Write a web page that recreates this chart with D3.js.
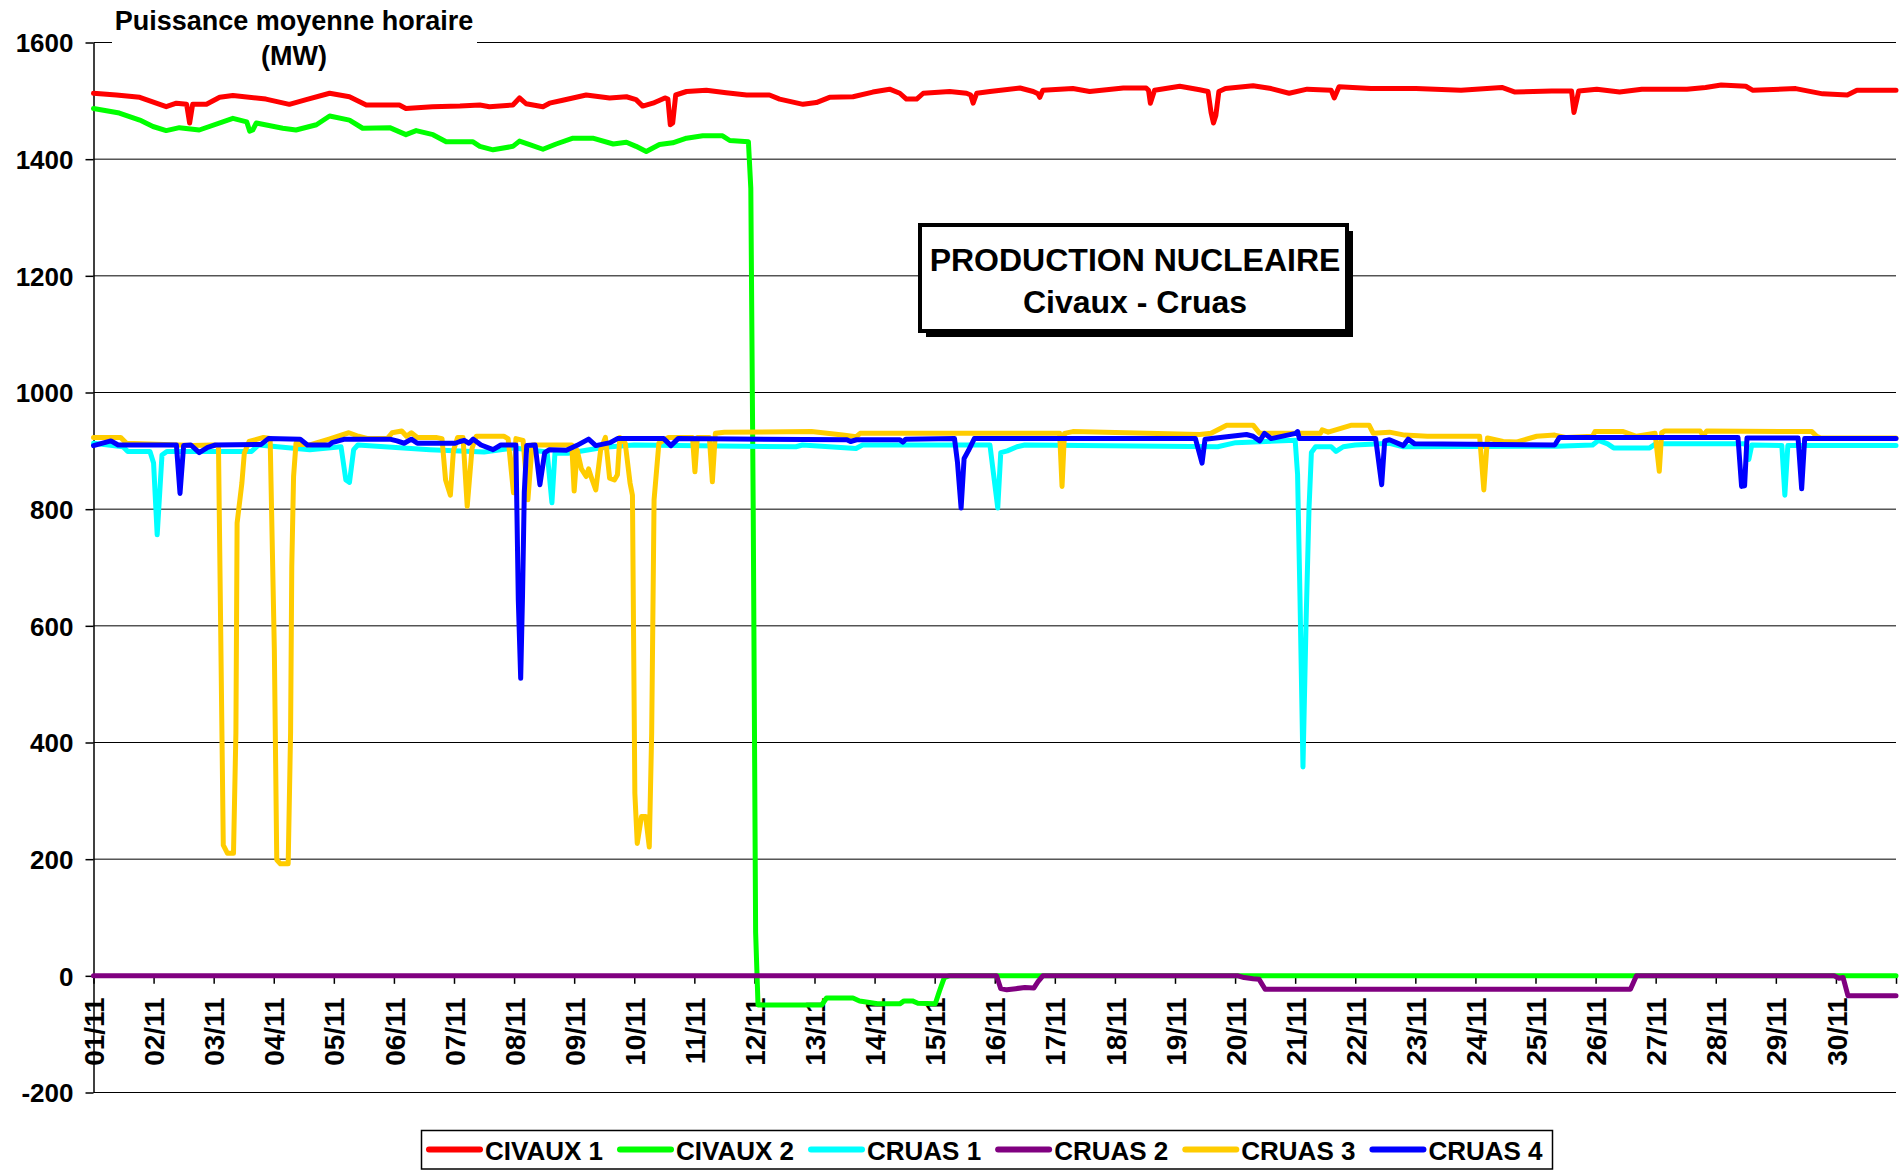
<!DOCTYPE html>
<html>
<head>
<meta charset="utf-8">
<script src="https://cdn.jsdelivr.net/npm/d3@7"></script>
<style>
  body { margin: 0; background: #fff; }
  svg text { font-family: "Liberation Sans", Arial, sans-serif; font-weight: bold; fill: #000; }
</style>
</head>
<body>
<svg id="chart" width="1899" height="1171"></svg>
<script>
// day offsets from 01/11 00:00, hourly mean power in MW
const dayLabels = ['01/11', '02/11', '03/11', '04/11', '05/11', '06/11', '07/11', '08/11', '09/11', '10/11',
  '11/11', '12/11', '13/11', '14/11', '15/11', '16/11', '17/11', '18/11', '19/11', '20/11',
  '21/11', '22/11', '23/11', '24/11', '25/11', '26/11', '27/11', '28/11', '29/11', '30/11'];
const yTicks = [-200, 0, 200, 400, 600, 800, 1000, 1200, 1400, 1600];
const seriesNames = ['CIVAUX 1', 'CIVAUX 2', 'CRUAS 1', 'CRUAS 2', 'CRUAS 3', 'CRUAS 4'];
const seriesColors = ['#ff0000', '#00ff00', '#00ffff', '#800080', '#ffcc00', '#0000ff'];

const civaux1 = [[0,1513],[0.38,1510],[0.77,1506],[1.21,1490],[1.38,1496],[1.55,1494],[1.6,1462],[1.65,1494],[1.88,1494],
  [2.1,1506],[2.32,1509],[2.87,1503],[3.26,1494],[3.54,1502],[3.93,1513],[4.26,1507],[4.54,1493],[5.09,1493],[5.2,1487],
  [5.64,1490],[6.1,1491],[6.43,1493],[6.59,1490],[6.98,1493],[7.09,1505],[7.2,1495],[7.48,1490],[7.59,1496],[7.81,1501],
  [8.2,1510],[8.59,1505],[8.87,1507],[9.03,1502],[9.14,1491],[9.31,1496],[9.51,1505],[9.56,1503],[9.6,1459],[9.64,1462],
  [9.69,1510],[9.87,1516],[10.2,1518],[10.53,1514],[10.87,1510],[11.25,1510],[11.42,1503],[11.81,1494],[12.03,1497],
  [12.25,1506],[12.64,1507],[12.97,1515],[13.25,1520],[13.42,1513],[13.53,1503],[13.7,1503],[13.81,1513],[14.25,1516],
  [14.53,1513],[14.6,1510],[14.64,1496],[14.7,1513],[14.92,1516],[15.42,1522],[15.64,1516],[15.72,1512],[15.75,1506],
  [15.8,1518],[16.3,1521],[16.58,1516],[17.14,1522],[17.52,1522],[17.56,1518],[17.59,1496],[17.66,1518],[18.08,1525],
  [18.41,1519],[18.55,1516],[18.6,1480],[18.64,1462],[18.68,1475],[18.73,1516],[18.84,1521],[19.3,1526],[19.6,1521],
  [19.9,1513],[20.2,1520],[20.6,1518],[20.65,1505],[20.73,1524],[21.26,1521],[22.01,1521],[22.76,1518],[23.44,1523],
  [23.66,1515],[24.27,1517],[24.6,1517],[24.64,1480],[24.72,1517],[25.02,1520],[25.4,1515],[25.77,1520],[26.52,1520],
  [26.83,1523],[27.09,1527],[27.5,1525],[27.62,1518],[28.33,1521],[28.63,1515],[28.78,1512],[29.19,1510],[29.35,1518],
  [30,1518]];

const civaux2 = [[0,1487],[0.43,1479],[0.77,1467],[0.99,1456],[1.21,1449],[1.43,1454],[1.76,1450],[2.32,1470],[2.55,1464],
  [2.6,1448],[2.65,1450],[2.71,1462],[3.15,1453],[3.37,1450],[3.71,1459],[3.93,1474],[4.26,1467],[4.48,1453],[4.93,1454],
  [5.2,1442],[5.37,1449],[5.65,1442],[5.87,1430],[6.31,1430],[6.43,1422],[6.65,1416],[6.98,1422],[7.09,1431],[7.26,1425],
  [7.48,1417],[7.7,1426],[7.98,1436],[8.31,1436],[8.65,1426],[8.87,1429],[9.03,1422],[9.2,1413],[9.42,1425],[9.64,1428],
  [9.87,1436],[10.14,1440],[10.47,1440],[10.59,1432],[10.9,1430],[10.94,1350],[10.98,800],[11.02,75],[11.06,-50],
  [12.12,-50],[12.2,-38],[12.64,-38],[12.75,-43],[13.05,-48],[13.42,-48],[13.49,-43],[13.63,-43],[13.72,-47],[14.01,-48],
  [14.08,-26],[14.16,-3],[14.24,0],[30,0]];

const cruas1 = [[0,913],[0.49,907],[0.57,899],[0.94,899],[1.0,879],[1.06,756],[1.14,893],[1.22,899],[2.63,899],[2.75,910],
  [3.6,902],[4.12,907],[4.2,850],[4.26,846],[4.33,902],[4.4,910],[5.6,902],[6.5,898],[7.0,905],[7.55,898],[7.63,811],
  [7.68,896],[7.9,896],[8.5,906],[9.0,910],[11.69,907],[11.8,910],[12.69,904],[12.8,910],[14.92,910],[14.98,860],
  [15.05,802],[15.1,897],[15.21,900],[15.37,907],[15.5,910],[18.71,907],[19.01,914],[20.0,918],[20.04,860],[20.08,650],
  [20.13,358],[20.18,600],[20.23,800],[20.27,897],[20.34,907],[20.6,907],[20.68,899],[20.8,907],[21.0,910],[21.57,913],
  [21.8,907],[24.35,908],[24.95,910],[25.05,918],[25.2,912],[25.3,905],[25.9,905],[26.0,912],[27.5,912],[27.55,885],
  [27.6,910],[28.1,909],[28.15,824],[28.2,909],[30,909]];

const cruas2 = [[0,0],[15.03,0],[15.1,-22],[15.2,-24],[15.35,-22],[15.5,-20],[15.65,-21],[15.72,-10],[15.8,0],[19.05,0],
  [19.15,-3],[19.3,-5],[19.4,-6],[19.5,-23],[25.58,-23],[25.68,0],[28.97,0],[29.05,-4],[29.12,-3],[29.2,-34],[30,-34]];

const cruas3 = [[0,923],[0.45,923],[0.55,913],[1.66,909],[1.99,910],[2.08,909],[2.16,224],[2.23,210],[2.33,210],[2.37,416],
  [2.39,776],[2.47,845],[2.51,896],[2.59,916],[2.83,923],[2.94,921],[3.01,559],[3.05,199],[3.11,192],[3.24,192],[3.28,416],
  [3.3,702],[3.33,856],[3.37,913],[3.6,910],[3.92,920],[4.25,931],[4.41,925],[4.57,921],[4.89,921],[4.97,931],[5.13,934],
  [5.21,925],[5.29,931],[5.39,923],[5.7,923],[5.8,921],[5.86,850],[5.94,824],[5.99,900],[6.06,923],[6.15,923],[6.22,805],
  [6.3,904],[6.37,925],[6.83,925],[6.9,921],[6.99,828],[7.03,921],[7.15,918],[7.23,816],[7.3,910],[7.96,910],[8.0,831],
  [8.05,901],[8.12,869],[8.2,856],[8.24,869],[8.3,850],[8.36,833],[8.44,901],[8.52,923],[8.59,853],[8.67,850],[8.72,859],
  [8.76,923],[8.85,913],[8.93,845],[8.97,824],[9.01,313],[9.05,227],[9.12,273],[9.19,273],[9.25,221],[9.29,416],[9.33,816],
  [9.41,913],[9.57,923],[9.97,923],[10.01,864],[10.05,923],[10.25,923],[10.3,847],[10.35,930],[10.5,932],[11.95,933],
  [12.47,927],[12.69,924],[12.76,930],[16.08,930],[16.12,839],[16.16,930],[16.3,933],[18.41,928],[18.6,930],[18.86,944],
  [19.3,944],[19.41,930],[20.42,930],[20.45,936],[20.55,932],[20.94,944],[21.23,944],[21.3,930],[21.57,932],[21.82,927],
  [22.2,925],[23.07,925],[23.14,833],[23.2,922],[23.46,916],[23.68,915],[24.02,925],[24.32,927],[24.5,923],[24.95,925],
  [24.99,933],[25.46,933],[25.68,925],[25.99,930],[26.06,865],[26.1,931],[26.15,934],[26.74,934],[26.79,926],[26.85,934],
  [28.6,933],[28.68,925],[28.75,922],[30,922]];

const cruas4 = [[0,909],[0.29,917],[0.41,910],[1.38,910],[1.44,827],[1.5,909],[1.62,910],[1.76,897],[1.9,906],[2.03,910],
  [2.79,911],[2.91,921],[3.44,920],[3.56,910],[3.92,910],[3.97,914],[4.18,920],[4.93,920],[5.05,917],[5.17,913],[5.29,920],
  [5.39,913],[6.02,913],[6.1,916],[6.17,918],[6.25,913],[6.32,920],[6.45,910],[6.65,902],[6.78,910],[7.03,910],[7.07,645],
  [7.11,510],[7.14,650],[7.17,829],[7.21,909],[7.35,910],[7.43,842],[7.51,897],[7.59,902],[7.87,901],[8.04,909],[8.24,920],
  [8.36,909],[8.6,914],[8.72,921],[9.49,921],[9.61,909],[9.73,921],[12.54,919],[12.6,916],[12.7,919],[13.42,919],
  [13.47,915],[13.52,920],[14.33,921],[14.38,880],[14.44,802],[14.49,887],[14.56,900],[14.66,921],[18.34,921],[18.45,879],
  [18.5,920],[19.19,928],[19.3,925],[19.41,917],[19.49,930],[19.6,921],[20.01,930],[20.04,933],[20.07,921],[21.34,921],
  [21.44,842],[21.49,917],[21.57,919],[21.8,909],[21.88,920],[21.99,912],[24.32,910],[24.4,923],[27.37,923],[27.43,839],
  [27.48,840],[27.52,922],[28.37,922],[28.43,835],[28.48,921],[30,921]];

const seriesData = [civaux1, civaux2, cruas1, cruas2, cruas3, cruas4];

const svg = d3.select('#chart');
const plotLeft = 93.5, plotRight = 1896, plotTop = 42.5, plotBottom = 1092.5;

const x = d3.scaleLinear().domain([0, 30]).range([plotLeft, plotRight]);
const y = d3.scaleLinear().domain([-200, 1600]).range([plotBottom, plotTop]);

// horizontal gridlines
svg.append('g')
  .selectAll('line')
  .data(yTicks)
  .join('line')
    .attr('x1', plotLeft)
    .attr('x2', plotRight)
    .attr('y1', d => y(d))
    .attr('y2', d => y(d))
    .attr('stroke', '#000')
    .attr('stroke-width', 1);

// axis title, its white background cuts the top gridline
svg.append('rect')
  .attr('x', 112).attr('y', 0)
  .attr('width', 365).attr('height', 72)
  .attr('fill', '#fff');
svg.append('text')
  .attr('x', 294).attr('y', 30)
  .attr('text-anchor', 'middle')
  .style('font-size', '27px')
  .text('Puissance moyenne horaire');
svg.append('text')
  .attr('x', 294).attr('y', 65)
  .attr('text-anchor', 'middle')
  .style('font-size', '27px')
  .text('(MW)');

// y axis
const yAxis = svg.append('g')
  .attr('transform', 'translate(' + plotLeft + ',0)')
  .call(d3.axisLeft(y).tickValues(yTicks).tickSize(8).tickSizeOuter(0).tickPadding(12).tickFormat(d => d));
yAxis.selectAll('path, line').attr('stroke', '#000').attr('stroke-width', 1.5);
yAxis.selectAll('text')
  .attr('dy', '0.36em')
  .style('font-size', '26px')
  .style('font-family', '"Liberation Sans", Arial, sans-serif');

// x axis along the 0 line, labels rotated
const xAxis = svg.append('g')
  .attr('transform', 'translate(0,' + y(0) + ')')
  .call(d3.axisBottom(x).tickValues(d3.range(0, 31)).tickSize(8).tickSizeOuter(0).tickFormat(i => dayLabels[i] || ''));
xAxis.selectAll('path, line').attr('stroke', '#000').attr('stroke-width', 1.5);
xAxis.selectAll('text')
  .attr('transform', 'rotate(-90)')
  .attr('text-anchor', 'end')
  .attr('x', -21.5)
  .attr('y', 0)
  .attr('dy', '0.36em')
  .style('font-size', '28px')
  .style('font-family', '"Liberation Sans", Arial, sans-serif');

// series
const line = d3.line()
  .x(d => x(d[0]))
  .y(d => y(d[1]));

svg.append('g')
  .selectAll('path')
  .data(seriesData)
  .join('path')
    .attr('d', line)
    .attr('fill', 'none')
    .attr('stroke', (d, i) => seriesColors[i])
    .attr('stroke-width', 5)
    .attr('stroke-linejoin', 'round')
    .attr('stroke-linecap', 'round');

// title box with drop shadow
svg.append('rect')
  .attr('x', 926).attr('y', 231)
  .attr('width', 427).attr('height', 106)
  .attr('fill', '#000');
svg.append('rect')
  .attr('x', 920).attr('y', 225)
  .attr('width', 427).attr('height', 106)
  .attr('fill', '#fff')
  .attr('stroke', '#000')
  .attr('stroke-width', 4);
svg.append('text')
  .attr('x', 1135).attr('y', 271)
  .attr('text-anchor', 'middle')
  .style('font-size', '32px')
  .text('PRODUCTION NUCLEAIRE');
svg.append('text')
  .attr('x', 1135).attr('y', 313)
  .attr('text-anchor', 'middle')
  .style('font-size', '32px')
  .text('Civaux - Cruas');

// legend
const legend = svg.append('g');
legend.append('rect')
  .attr('x', 421.5).attr('y', 1130.5)
  .attr('width', 1131).attr('height', 38.5)
  .attr('fill', '#fff')
  .attr('stroke', '#000')
  .attr('stroke-width', 1.5);

let lx = 429;
seriesNames.forEach((name, i) => {
  legend.append('line')
    .attr('x1', lx).attr('x2', lx + 51)
    .attr('y1', 1149.5).attr('y2', 1149.5)
    .attr('stroke', seriesColors[i])
    .attr('stroke-width', 6)
    .attr('stroke-linecap', 'round');
  const t = legend.append('text')
    .attr('x', lx + 56).attr('y', 1159.5)
    .style('font-size', '26px')
    .text(name);
  lx += 56 + t.node().getComputedTextLength() + 17;
});
</script>
</body>
</html>
